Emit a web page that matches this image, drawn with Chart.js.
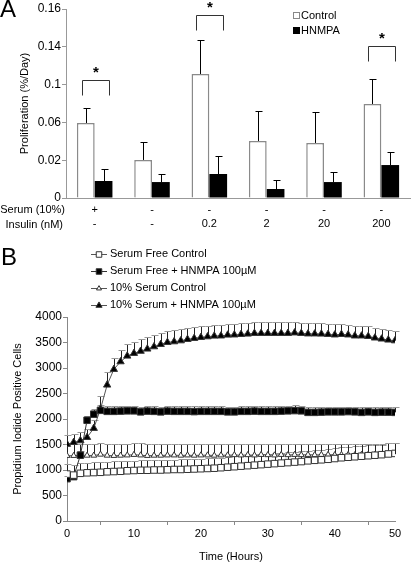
<!DOCTYPE html>
<html>
<head>
<meta charset="utf-8">
<script src="https://cdn.jsdelivr.net/npm/chart.js@4.4.0/dist/chart.umd.min.js"></script>
<style>
  body { margin:0; background:#fff; width:412px; height:564px; position:relative; overflow:hidden; font-family:"Liberation Sans", Arial, sans-serif; }
  canvas { position:absolute; left:0; }
  #chartA { top:0; }
  #chartB { top:240px; }
  .panel { position:absolute; font-size:24px; color:#000; }
</style>
</head>
<body>
<canvas id="chartA" width="412" height="240"></canvas>
<canvas id="chartB" width="412" height="324"></canvas>
<div class="panel" style="left:0;top:-5px">A</div>
<div class="panel" style="left:1px;top:243px">B</div>
<script>
Chart.defaults.font.family = '"Liberation Sans", Arial, sans-serif';
Chart.defaults.font.size = 11;
Chart.defaults.color = '#000';
Chart.defaults.animation = false;

/* ---------- Panel A data ---------- */
const serumRow = ['+', '-', '-', '-', '-', '-'];
const insulinRow = ['-', '-', '0.2', '2', '20', '200'];
const yTicksA = [0, 0.032, 0.064, 0.096, 0.128, 0.16];
const yTickLabelsA = ['0', '0.02', '0.06', '0.1', '0.14', '0.16'];
const controlA = [0.0635, 0.0322, 0.105, 0.0483, 0.0466, 0.0796];
const controlErrA = [0.0127, 0.0152, 0.0288, 0.0254, 0.0262, 0.0211];
const hnmpaA = [0.0144, 0.0135, 0.0203, 0.0076, 0.0135, 0.0279];
const hnmpaErrA = [0.0102, 0.0068, 0.0153, 0.0076, 0.0085, 0.0111];
const sigGroupsA = [0, 2, 5];
const sigLevelsA = [0.0999, 0.155, 0.1287];

/* ---------- Panel B data ---------- */
const hoursB = [0,1,2,3,4,5,6,7,8,9,10,11,12,13,14,15,16,17,18,19,20,21,22,23,24,25,26,27,28,29,30,31,32,33,34,35,36,37,38,39,40,41,42,43,44,45,46,47,48,49];
const xLabelPosB = [0, 10, 20, 30, 40, 49];
const xLabelTextB = ['0', '10', '20', '30', '40', '50'];
const xMarkPosB = [5, 15, 25, 35, 45];

const sfControl = [920,900,935,945,950,955,965,970,975,985,990,995,995,1000,1000,1005,1010,1010,1015,1020,1025,1030,1035,1045,1055,1065,1075,1085,1095,1105,1115,1125,1135,1145,1155,1165,1180,1190,1200,1210,1225,1240,1250,1260,1270,1280,1290,1300,1315,1325];
const sfControlErr = [200,205,200,200,200,195,200,200,200,200,195,200,200,200,200,200,195,200,200,200,200,200,200,200,195,200,200,200,200,200,200,200,200,200,205,200,200,200,200,205,200,205,200,205,200,205,205,200,205,205];
const sfHnmpa = [830,870,1290,1975,2095,2170,2150,2150,2155,2160,2160,2140,2155,2150,2140,2155,2150,2150,2150,2145,2150,2150,2150,2150,2140,2140,2150,2150,2155,2150,2150,2150,2155,2160,2165,2160,2130,2130,2135,2140,2140,2140,2145,2140,2130,2140,2130,2135,2135,2130];
const sfHnmpaErr = [60,60,80,90,95,100,100,100,100,100,100,105,100,100,105,100,100,100,100,105,100,100,100,100,105,105,100,100,100,100,100,100,100,100,100,100,110,110,105,100,100,100,100,100,105,100,105,100,100,100];
const ssControl = [1280,1280,1290,1285,1285,1305,1285,1280,1285,1290,1300,1290,1280,1285,1285,1290,1290,1285,1290,1285,1290,1290,1285,1290,1290,1295,1290,1295,1290,1300,1295,1290,1300,1295,1300,1295,1300,1295,1300,1300,1295,1300,1300,1295,1300,1305,1300,1305,1310,1310];
const ssControlErr = [230,230,225,230,230,215,230,235,230,225,220,230,235,230,230,225,225,230,225,230,225,225,230,225,225,220,225,220,225,215,220,225,215,220,215,220,215,220,215,215,220,215,215,220,215,210,215,210,215,215];
const ssHnmpa = [1505,1543,1575,1640,1818,2196,2667,2974,3124,3235,3288,3330,3373,3418,3464,3503,3516,3535,3562,3582,3601,3614,3627,3630,3647,3650,3660,3667,3680,3680,3680,3680,3680,3680,3690,3680,3670,3670,3667,3660,3650,3660,3650,3630,3630,3620,3590,3570,3550,3535];
const ssHnmpaErr = [175,170,170,165,170,250,260,230,225,230,230,230,230,230,225,225,225,225,220,220,220,215,215,215,215,215,215,215,215,215,215,215,215,215,215,210,210,210,210,210,205,205,200,200,200,200,200,200,200,195];

/* ---------- Helpers ---------- */
function px(v) { return Math.round(v) + 0.5; }
function line(ctx, x1, y1, x2, y2) {
    ctx.beginPath(); ctx.moveTo(x1, y1); ctx.lineTo(x2, y2); ctx.stroke();
}

/* ---------- Panel A ---------- */
const panelAExtras = {
    id: 'panelAExtras',
    afterDatasetsDraw(chart) {
        const ctx = chart.ctx, y = chart.scales.y;
        ctx.save();
        ctx.strokeStyle = '#000';
        ctx.lineWidth = 1;
        [[controlA, controlErrA], [hnmpaA, hnmpaErrA]].forEach(([vals, errs], d) => {
            chart.getDatasetMeta(d).data.forEach((bar, i) => {
                const x = px(bar.x);
                const y0 = y.getPixelForValue(vals[i]);
                const y1 = px(y.getPixelForValue(vals[i] + errs[i]));
                line(ctx, x, y0, x, y1);
                line(ctx, x - 3, y1, x + 4, y1);
            });
        });
        // significance brackets
        ctx.strokeStyle = '#333';
        sigGroupsA.forEach((g, k) => {
            const xl = px(chart.getDatasetMeta(0).data[g].x - 4);
            const xr = px(chart.getDatasetMeta(1).data[g].x + 5);
            const yt = px(y.getPixelForValue(sigLevelsA[k]));
            ctx.beginPath();
            ctx.moveTo(xl, yt + 15); ctx.lineTo(xl, yt); ctx.lineTo(xr, yt); ctx.lineTo(xr, yt + 15);
            ctx.stroke();
            ctx.fillStyle = '#000';
            ctx.font = 'bold 15px "Liberation Sans", Arial, sans-serif';
            ctx.textAlign = 'center';
            ctx.textBaseline = 'middle';
            ctx.fillText('*', (xl + xr) / 2, yt - 8);
        });
        ctx.restore();
    },
    afterDraw(chart) {
        const ctx = chart.ctx;
        ctx.save();
        ctx.font = '11px "Liberation Sans", Arial, sans-serif';
        ctx.fillStyle = '#000';
        ctx.textBaseline = 'middle';
        ctx.textAlign = 'right';
        ctx.fillText('Serum (10%)', 65, 210);
        ctx.fillText('Insulin (nM)', 63, 225);
        // legend
        ctx.textAlign = 'left';
        ctx.strokeStyle = '#888';
        ctx.lineWidth = 1;
        ctx.fillStyle = '#fff';
        ctx.fillRect(293.5, 12.5, 6, 6);
        ctx.strokeRect(293.5, 12.5, 6, 6);
        ctx.fillStyle = '#000';
        ctx.fillRect(293, 27, 7, 7);
        ctx.fillText('Control', 301, 16);
        ctx.fillText('HNMPA', 301, 31);
        ctx.restore();
    }
};

new Chart(document.getElementById('chartA'), {
    type: 'bar',
    data: {
        labels: serumRow.map((s, i) => [s, insulinRow[i]]),
        datasets: [
            { label: 'Control', data: controlA, backgroundColor: '#fff', borderColor: '#8a8a8a', borderWidth: 1.5,
              categoryPercentage: 0.62, barPercentage: 1 },
            { label: 'HNMPA', data: hnmpaA, backgroundColor: '#000', borderColor: '#000', borderWidth: 0,
              categoryPercentage: 0.62, barPercentage: 1 }
        ]
    },
    options: {
        responsive: false,
        layout: { padding: { top: 9, right: 2, left: 0, bottom: 0 } },
        plugins: { legend: { display: false }, tooltip: { enabled: false } },
        scales: {
            x: {
                grid: { display: false, drawTicks: false },
                border: { display: true, color: '#999', width: 1 },
                ticks: { font: { size: 11, lineHeight: 1.36 }, padding: 4, maxRotation: 0, autoSkip: false },
                afterFit: s => { s.height = 42; }
            },
            y: {
                min: 0, max: 0.16,
                afterBuildTicks: s => { s.ticks = yTicksA.map(v => ({ value: v })); },
                ticks: { font: { size: 12 }, padding: 1, callback: (v, i) => yTickLabelsA[i] },
                grid: { drawOnChartArea: false, drawTicks: true, tickLength: 4, color: '#999' },
                border: { display: true, color: '#999', width: 1 },
                title: { display: true, text: 'Proliferation (%/Day)', font: { size: 11 }, padding: { top: 18, bottom: 0 } },
                afterFit: s => { s.width = 66; }
            }
        }
    },
    plugins: [panelAExtras]
});

/* ---------- Panel B ---------- */
const seriesB = [
    { label: 'Serum Free Control', vals: sfControl, errs: sfControlErr, style: 'rect', r: 4.6, fill: '#fff', lineCol: '#555' },
    { label: 'Serum Free + HNMPA 100\u00b5M', vals: sfHnmpa, errs: sfHnmpaErr, style: 'rect', r: 4.6, fill: '#000', lineCol: '#333' },
    { label: '10% Serum Control', vals: ssControl, errs: ssControlErr, style: 'triangle', r: 3.4, fill: '#fff', lineCol: '#555' },
    { label: '10% Serum + HNMPA 100\u00b5M', vals: ssHnmpa, errs: ssHnmpaErr, style: 'triangle', r: 4.2, fill: '#000', lineCol: '#555' }
];

const panelBExtras = {
    id: 'panelBExtras',
    beforeDatasetsDraw(chart) {
        const ctx = chart.ctx, y = chart.scales.y;
        ctx.save();
        ctx.lineWidth = 1;
        seriesB.forEach((s, d) => {
            chart.getDatasetMeta(d).data.forEach((pt, i) => {
                const x = px(pt.x);
                const y1 = px(y.getPixelForValue(s.vals[i] + s.errs[i]));
                ctx.strokeStyle = '#222';
                line(ctx, x, pt.y, x, y1);
                ctx.strokeStyle = '#999';
                line(ctx, x - 3, y1, x + 4, y1);
            });
        });
        ctx.restore();
    },
    afterDraw(chart) {
        const ctx = chart.ctx;
        ctx.save();
        ctx.font = '11px "Liberation Sans", Arial, sans-serif';
        ctx.textBaseline = 'middle';
        ctx.textAlign = 'left';
        seriesB.forEach((s, k) => {
            const yy = 14 + k * 17;
            ctx.strokeStyle = s.lineCol;
            ctx.lineWidth = 1;
            line(ctx, 91, yy + 0.5, 107, yy + 0.5);
            ctx.fillStyle = s.fill;
            ctx.strokeStyle = '#333';
            Chart.helpers.drawPoint(ctx, { pointStyle: s.style, radius: s.r * 0.85, rotation: 0, borderWidth: 1 }, 99, yy + 0.5);
            ctx.fillStyle = '#000';
            ctx.fillText(s.label, 110, yy);
        });
        ctx.restore();
    }
};

new Chart(document.getElementById('chartB'), {
    type: 'line',
    data: {
        datasets: seriesB.map(s => ({
            label: s.label,
            data: hoursB.map((h, i) => ({ x: h, y: s.vals[i] })),
            borderColor: s.lineCol,
            borderWidth: 1,
            tension: 0,
            pointStyle: s.style,
            pointRadius: s.r,
            pointBackgroundColor: s.fill,
            pointBorderColor: '#333',
            pointBorderWidth: 1
        }))
    },
    options: {
        responsive: false,
        layout: { padding: { top: 77, right: 17, left: 0, bottom: 0 } },
        plugins: { legend: { display: false }, tooltip: { enabled: false } },
        scales: {
            x: {
                type: 'linear', min: 0, max: 49,
                afterBuildTicks: s => {
                    s.ticks = xLabelPosB.concat(xMarkPosB).sort((a, b) => a - b).map(v => ({ value: v }));
                },
                ticks: {
                    font: { size: 11 }, padding: 2, maxRotation: 0, autoSkip: false,
                    callback: v => { const k = xLabelPosB.indexOf(v); return k >= 0 ? xLabelTextB[k] : ''; }
                },
                grid: {
                    drawOnChartArea: false, drawTicks: true, tickLength: 4,
                    color: c => (c.tick && xMarkPosB.includes(c.tick.value)) ? '#888' : 'rgba(0,0,0,0)'
                },
                border: { display: true, color: '#888', width: 1 },
                title: { display: true, text: 'Time (Hours)', font: { size: 11 }, padding: { top: 0, bottom: 0 } },
                afterFit: s => { s.height = 43; }
            },
            y: {
                min: 0, max: 4000,
                ticks: { stepSize: 500, font: { size: 12 }, padding: 1, callback: v => String(v) },
                grid: { drawOnChartArea: false, drawTicks: true, tickLength: 4, color: '#888' },
                border: { display: true, color: '#888', width: 1 },
                title: { display: true, text: 'Propidium Iodide Positive Cells', font: { size: 11 }, padding: { top: 11, bottom: 0 } },
                afterFit: s => { s.width = 67; }
            }
        }
    },
    plugins: [panelBExtras]
});
</script>
</body>
</html>
